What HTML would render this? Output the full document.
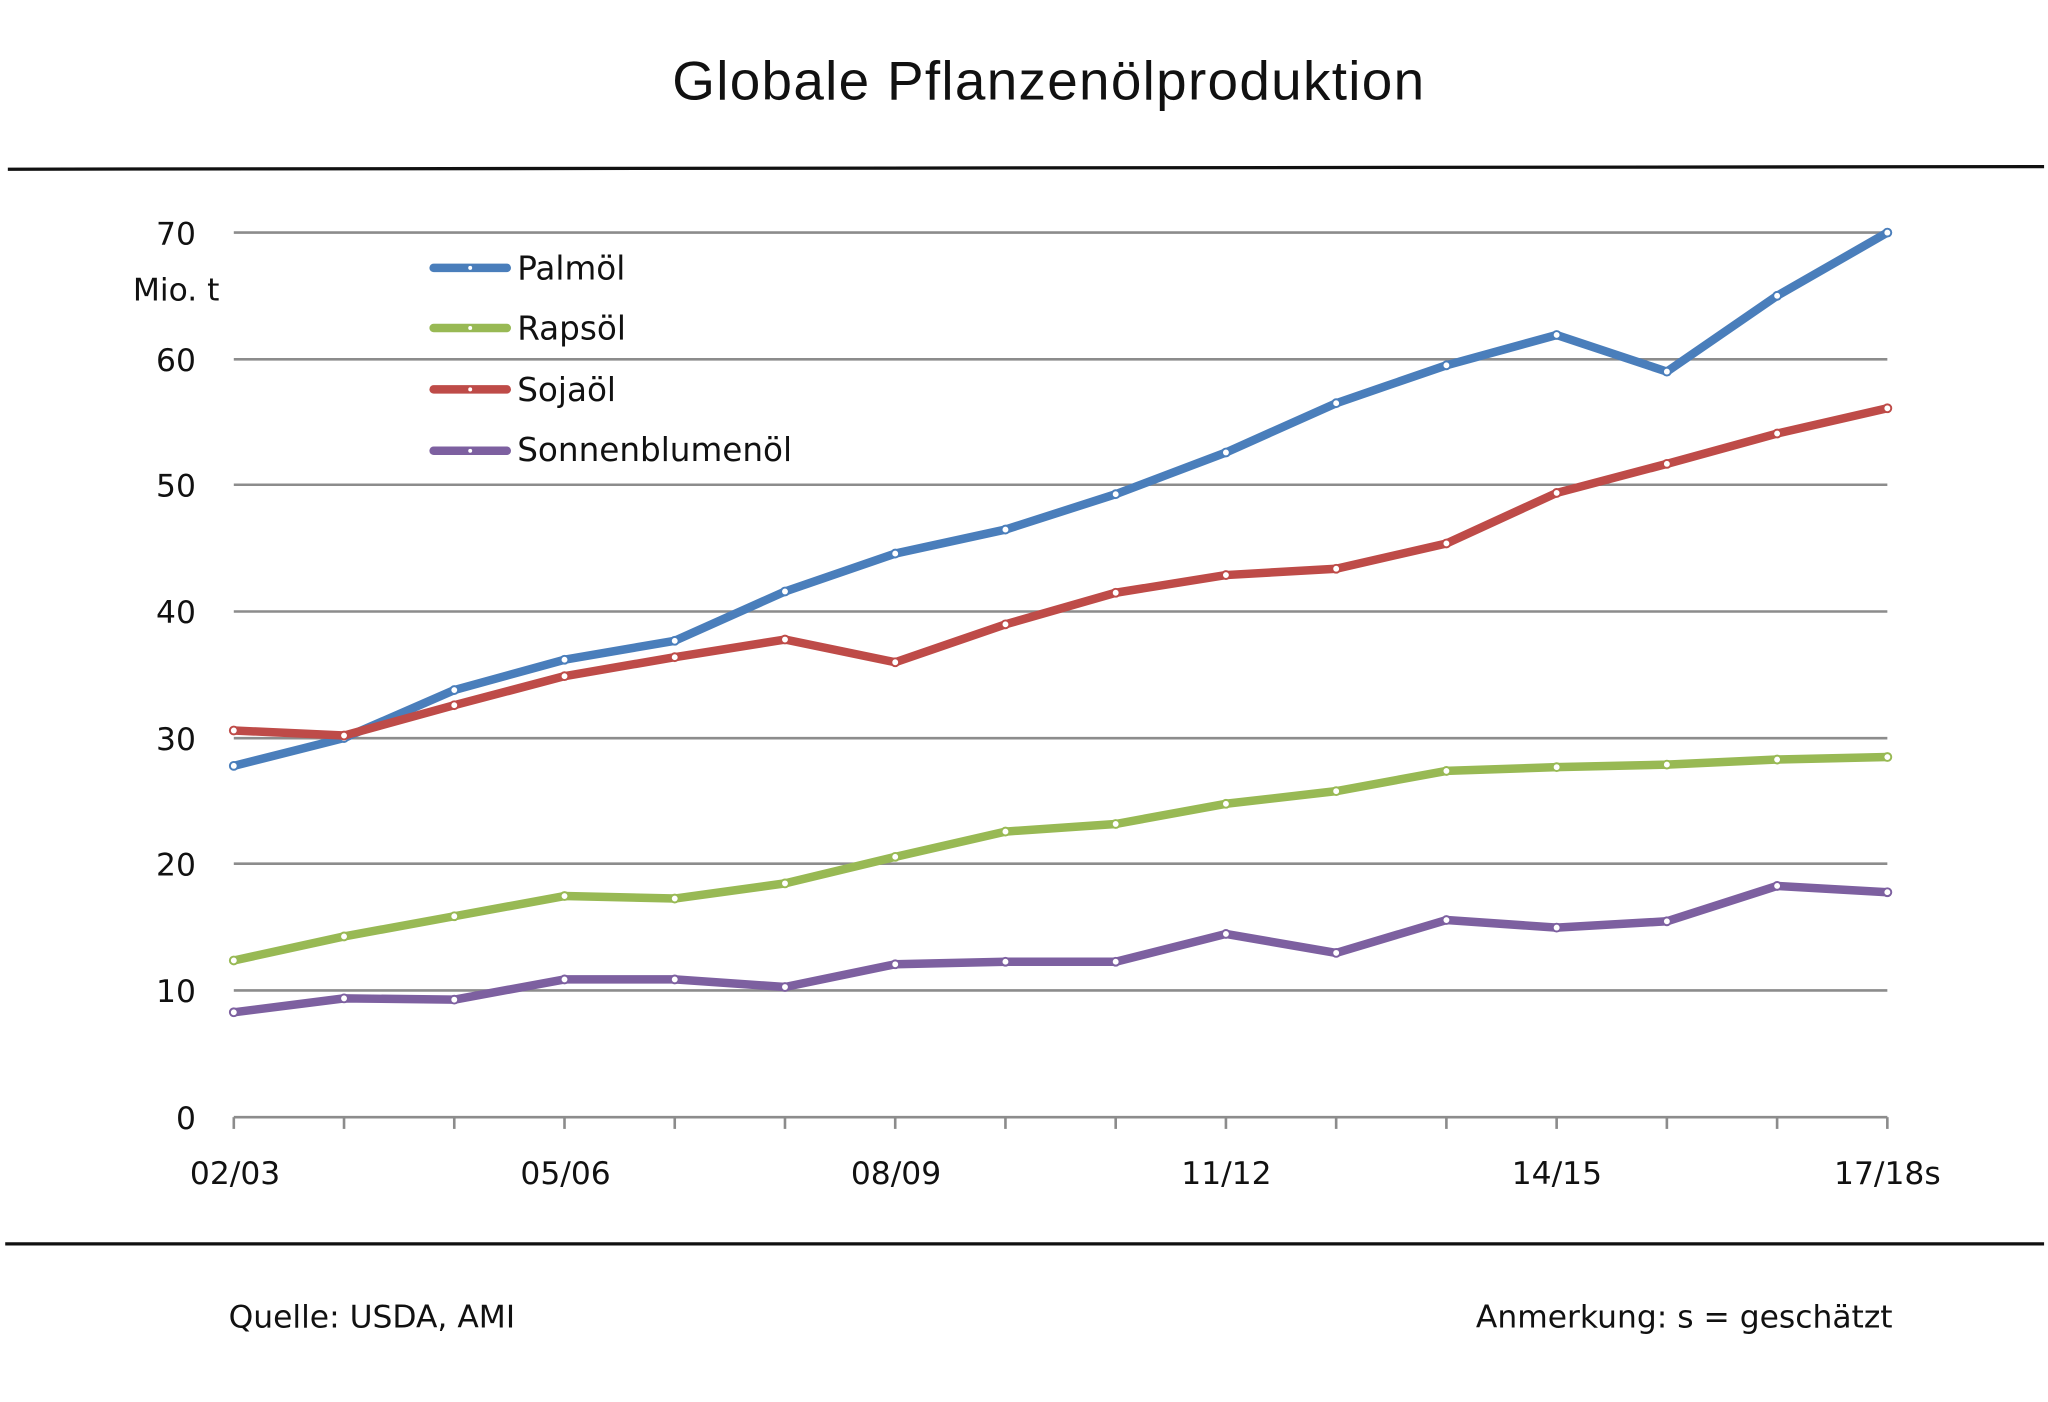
<!DOCTYPE html>
<html><head><meta charset="utf-8"><style>html,body{margin:0;padding:0;background:#fff}svg{display:block}</style></head>
<body>
<svg width="2048" height="1402" viewBox="0 0 1568 1073" preserveAspectRatio="none" xmlns="http://www.w3.org/2000/svg" font-family="DejaVu Sans, Liberation Sans, sans-serif" fill="#111">
<text x="803" y="76" font-size="42" text-anchor="middle" font-family="Liberation Sans, sans-serif" letter-spacing="1">Globale Pflanzenölproduktion</text>
<line x1="6" y1="129.5" x2="1565" y2="127.5" stroke="#111" stroke-width="2.5"/>
<line x1="4" y1="952" x2="1565" y2="952" stroke="#111" stroke-width="2.5"/>
<g stroke="#8c8c8c" stroke-width="2">
<line x1="179" y1="178" x2="1445" y2="178"/><line x1="179" y1="275" x2="1445" y2="275"/>
<line x1="179" y1="371" x2="1445" y2="371"/><line x1="179" y1="468" x2="1445" y2="468"/>
<line x1="179" y1="565" x2="1445" y2="565"/><line x1="179" y1="661" x2="1445" y2="661"/>
<line x1="179" y1="758" x2="1445" y2="758"/><line x1="179" y1="855" x2="1445" y2="855"/>
</g>
<g id="ticks" stroke="#8c8c8c" stroke-width="2"></g>
<g font-size="24" text-anchor="end">
<text x="150" y="187">70</text><text x="150" y="284">60</text><text x="150" y="380">50</text><text x="150" y="477">40</text>
<text x="150" y="574">30</text><text x="150" y="670">20</text><text x="150" y="767">10</text><text x="150" y="864">0</text>
<text x="168" y="230">Mio. t</text>
</g>
<g font-size="24" text-anchor="middle">
<text x="180" y="906">02/03</text><text x="433" y="906">05/06</text><text x="686" y="906">08/09</text>
<text x="939" y="906">11/12</text><text x="1192" y="906">14/15</text><text x="1445" y="906">17/18s</text>
</g>
<g font-size="24">
<text x="175" y="1016">Quelle: USDA, AMI</text>
<text x="1449" y="1016" text-anchor="end">Anmerkung: s = geschätzt</text>
</g>
<g id="series" fill="none" stroke-width="6.5" stroke-linejoin="round"></g>
<g stroke-width="6.5" stroke-linecap="round">
<line x1="332" y1="205" x2="388" y2="205" stroke="#4a7ebb"/><line x1="332" y1="251" x2="388" y2="251" stroke="#98b954"/>
<line x1="332" y1="298" x2="388" y2="298" stroke="#be4b48"/><line x1="332" y1="345" x2="388" y2="345" stroke="#7d60a0"/>
</g>
<g fill="#fff"><circle cx="360" cy="205" r="1.5"/><circle cx="360" cy="251" r="1.5"/><circle cx="360" cy="298" r="1.5"/><circle cx="360" cy="345" r="1.5"/></g>
<g font-size="25">
<text x="396" y="214">Palmöl</text><text x="396" y="260">Rapsöl</text><text x="396" y="307">Sojaöl</text><text x="396" y="353">Sonnenblumenöl</text>
</g>
<script>
var ns="http://www.w3.org/2000/svg";
var t=document.getElementById("ticks");
for(var i=0;i<16;i++){var x=179+i*84.4;var l=document.createElementNS(ns,"line");l.setAttribute("x1",x);l.setAttribute("x2",x);l.setAttribute("y1",855);l.setAttribute("y2",864);t.appendChild(l);}
var S=[["#4a7ebb",[27.8,30,33.8,36.2,37.7,41.6,44.6,46.5,49.3,52.6,56.5,59.5,61.9,59,65,70]],
["#98b954",[12.4,14.3,15.9,17.5,17.3,18.5,20.6,22.6,23.2,24.8,25.8,27.4,27.7,27.9,28.3,28.5]],
["#be4b48",[30.6,30.2,32.6,34.9,36.4,37.8,36,39,41.5,42.9,43.4,45.4,49.4,51.7,54.1,56.1]],
["#7d60a0",[8.3,9.4,9.3,10.9,10.9,10.3,12.1,12.3,12.3,14.5,13,15.6,15,15.5,18.3,17.8]]];
var g=document.getElementById("series");
S.forEach(function(s){var pts=s[1].map(function(v,i){return (179+i*84.4)+","+(855-v*9.671)}).join(" ");
var p=document.createElementNS(ns,"polyline");p.setAttribute("points",pts);p.setAttribute("stroke",s[0]);g.appendChild(p);
s[1].forEach(function(v,i){var c=document.createElementNS(ns,"circle");c.setAttribute("cx",179+i*84.4);c.setAttribute("cy",855-v*9.671);c.setAttribute("r",3);c.setAttribute("fill","#fff");c.setAttribute("stroke",s[0]);c.setAttribute("stroke-width",1.5);g.appendChild(c);});});
</script>
</svg>
</body></html>
